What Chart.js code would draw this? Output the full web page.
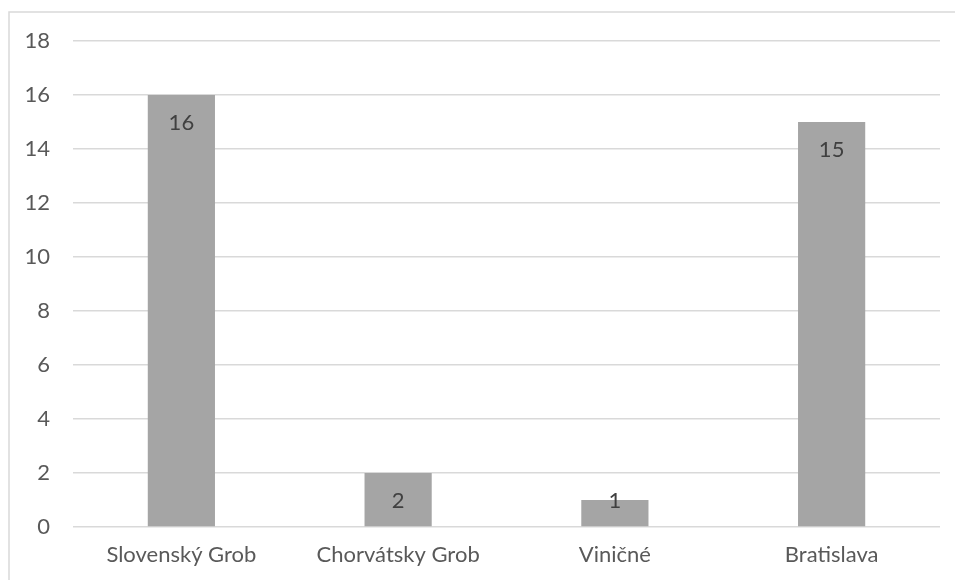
<!DOCTYPE html>
<html>
<head>
<meta charset="utf-8">
<script src="https://cdn.jsdelivr.net/npm/chart.js@4/dist/chart.umd.min.js"></script>
<style>
  html, body { margin: 0; padding: 0; background: #ffffff; }
  #wrap { width: 955px; height: 580px; position: relative; }
</style>
</head>
<body>
<div id="wrap"><canvas id="c" width="955" height="580"></canvas></div>
<script>
// Počet podľa obce
const categories = ['Slovenský Grob', 'Chorvátsky Grob', 'Viničné', 'Bratislava'];
const counts = [16, 2, 1, 15];
const yTicks = [0, 2, 4, 6, 8, 10, 12, 14, 16, 18];

const FONT = 'Lato, "Open Sans", sans-serif';

// Outer frame of the chart object (open to the right and bottom)
const framePlugin = {
  id: 'frame',
  beforeDraw(chart) {
    const ctx = chart.ctx;
    ctx.save();
    ctx.strokeStyle = '#d9d9d9';
    ctx.lineWidth = 1.5;
    ctx.beginPath();
    ctx.moveTo(9, 600);
    ctx.lineTo(9, 12);
    ctx.lineTo(970, 12);
    ctx.stroke();
    ctx.restore();
  }
};

// Value labels placed at the inside end of each bar
const valueLabels = {
  id: 'valueLabels',
  afterDatasetsDraw(chart) {
    const ctx = chart.ctx;
    const meta = chart.getDatasetMeta(0);
    const yScale = chart.scales.y;
    const base = yScale.getPixelForValue(0);
    ctx.save();
    ctx.font = '22px ' + FONT;
    ctx.fillStyle = '#404040';
    ctx.textAlign = 'center';
    ctx.textBaseline = 'middle';
    meta.data.forEach((bar, i) => {
      const v = chart.data.datasets[0].data[i];
      const top = yScale.getPixelForValue(v);
      const y = Math.min(top + 27, base - 27);
      ctx.fillText(String(v), bar.x, y + 1);
    });
    ctx.restore();
  }
};

new Chart(document.getElementById('c'), {
  type: 'bar',
  data: {
    labels: categories,
    datasets: [{
      data: counts,
      backgroundColor: '#a5a5a5',
      borderWidth: 0,
      categoryPercentage: 1.0,
      barPercentage: 0.31
    }]
  },
  options: {
    responsive: false,
    animation: false,
    devicePixelRatio: 1,
    layout: { padding: { left: 0, right: 15, top: 41, bottom: 0 } },
    plugins: {
      legend: { display: false },
      tooltip: { enabled: false },
      title: { display: false }
    },
    scales: {
      x: {
        grid: { display: false, drawTicks: false },
        border: { display: false },
        ticks: {
          color: '#595959',
          font: { family: FONT, size: 22 },
          padding: 15,
          maxRotation: 0,
          autoSkip: false
        },
        afterFit(scale) { scale.height = 53; }
      },
      y: {
        min: 0,
        max: 18,
        afterBuildTicks(scale) { scale.ticks = yTicks.map(v => ({ value: v })); },
        grid: { color: '#d9d9d9', lineWidth: 1.5, drawTicks: false },
        border: { display: false },
        ticks: {
          color: '#595959',
          font: { family: FONT, size: 22 },
          padding: 23
        },
        afterFit(scale) { scale.width = 73; }
      }
    }
  },
  plugins: [framePlugin, valueLabels]
});
</script>
</body>
</html>
